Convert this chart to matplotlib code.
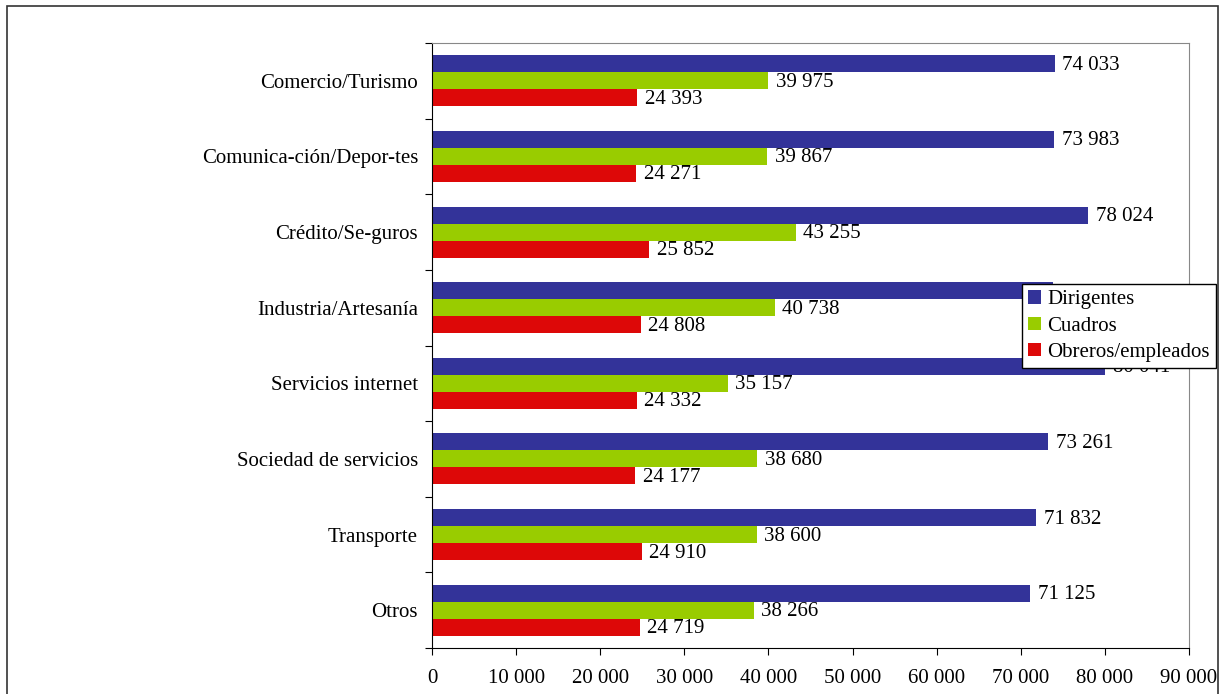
import numpy as np
import matplotlib
matplotlib.use('Agg')
import matplotlib.pyplot as plt
from matplotlib.patches import Rectangle

# 글꼴: Times 계열
plt.rcParams['font.family'] = ['Liberation Serif', 'DejaVu Serif']

categories = ['Comercio/Turismo', 'Comunica-ción/Depor-tes', 'Crédito/Se-guros',
              'Industria/Artesanía', 'Servicios internet', 'Sociedad de servicios',
              'Transporte', 'Otros']
dirigentes = [74033, 73983, 78024, 73800, 80041, 73261, 71832, 71125]
cuadros = [39975, 39867, 43255, 40738, 35157, 38680, 38600, 38266]
obreros = [24393, 24271, 25852, 24808, 24332, 24177, 24910, 24719]
series_names = ['Dirigentes', 'Cuadros', 'Obreros/empleados']
colors = ['#333399', '#99CC00', '#DD0808']
x_ticks = [0, 10000, 20000, 30000, 40000, 50000, 60000, 70000, 80000, 90000]
# 범례에 가려진 라벨 (Industria/Artesanía 의 Dirigentes)
hidden_labels = {(0, 3)}


def fmt(v):
    return f'{v:,}'.replace(',', ' ')


fig = plt.figure(figsize=(12.24, 6.94), dpi=100)
ax = fig.add_axes([432 / 1224, 1 - 648 / 694, (1189 - 432) / 1224, (648 - 43) / 694])

# 바깥 테두리
fig.patches.append(Rectangle((7 / 1224, -0.1), (1218 - 7) / 1224, 1.1 - 6 / 694,
                             transform=fig.transFigure, fill=False,
                             edgecolor='#333333', linewidth=1.2))

y = np.arange(len(categories))
h = 0.225
for k, (vals, off) in enumerate([(dirigentes, -h), (cuadros, 0), (obreros, h)]):
    ax.barh(y + off, vals, height=h, color=colors[k], label=series_names[k], zorder=2)
    for i, (yi, v) in enumerate(zip(y + off, vals)):
        if (k, i) in hidden_labels:
            continue
        ax.text(v + 900, yi + 0.02, fmt(v), va='center', ha='left', fontsize=15, zorder=3)

ax.set_xlim(0, 90000)
ax.set_ylim(len(categories) - 0.5, -0.5)
ax.set_xticks(x_ticks)
ax.set_xticklabels([fmt(t) for t in x_ticks], fontsize=15)
ax.tick_params(axis='x', length=5, direction='out', pad=10)

ax.set_yticks(np.arange(len(categories) + 1) - 0.5)
ax.set_yticklabels([])
ax.tick_params(axis='y', which='major', length=5, direction='out')
ax.set_yticks(y, minor=True)
ax.set_yticklabels(categories, minor=True, fontsize=15)
ax.tick_params(axis='y', which='minor', length=0, pad=10)

for s in ['top', 'right']:
    ax.spines[s].set_color('#888888')
for s in ['left', 'bottom']:
    ax.spines[s].set_color('black')

leg = ax.legend(loc='upper left', bbox_to_anchor=(1022 / 1224, 1 - 284 / 694),
                bbox_transform=fig.transFigure, fontsize=15, frameon=True,
                fancybox=False, edgecolor='black', handlelength=0.6, handleheight=0.6,
                handletextpad=0.3, borderpad=0.3, labelspacing=0.35, borderaxespad=0)
leg.get_frame().set_linewidth(1.0)
leg.get_frame().set_alpha(1.0)
leg.set_zorder(10)

fig.savefig('out.png', dpi=100)
